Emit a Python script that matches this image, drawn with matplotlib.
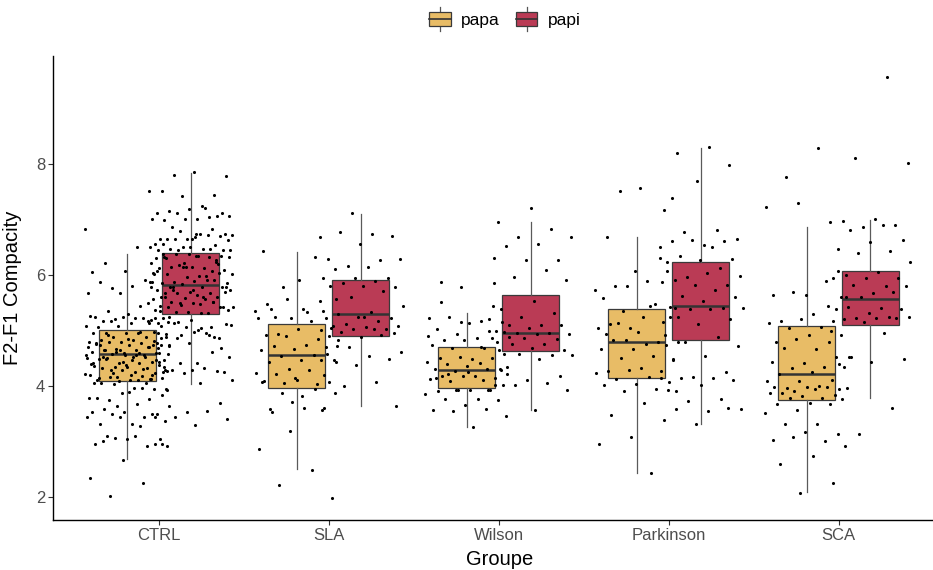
import matplotlib
matplotlib.use('Agg')
import matplotlib.pyplot as plt
import numpy as np
from matplotlib.patches import Rectangle
from matplotlib.lines import Line2D
from matplotlib.legend_handler import HandlerBase

plt.rcParams['font.family'] = ['Liberation Sans', 'DejaVu Sans']

groups = ['CTRL', 'SLA', 'Wilson', 'Parkinson', 'SCA']
series = ['papa', 'papi']
colors = ['#E8BC66', '#BA3B55']

# box statistics (one value per group)
papa_low = [2.68, 2.50, 3.25, 2.42, 2.08]
papa_q1 = [4.08, 3.97, 3.97, 4.15, 3.75]
papa_med = [4.57, 4.56, 4.28, 4.80, 4.21]
papa_q3 = [5.01, 5.11, 4.71, 5.38, 5.09]
papa_high = [6.38, 6.42, 5.31, 6.68, 6.86]

papi_low = [4.03, 3.63, 3.57, 3.31, 3.79]
papi_q1 = [5.29, 4.91, 4.63, 4.83, 5.10]
papi_med = [5.82, 5.30, 4.95, 5.44, 5.56]
papi_q3 = [6.40, 5.92, 5.64, 6.24, 6.08]
papi_high = [7.85, 7.10, 6.96, 8.29, 6.99]

ctrl_papa = [6.83, 6.51, 6.21, 6.08, 6.07, 6.06, 5.92, 5.76, 5.60, 5.81, 5.87, 5.87, 5.67, 5.67,
             5.45, 5.36, 5.36, 5.29, 5.25, 5.18, 5.21, 5.16, 5.22, 5.18, 5.22, 5.24, 5.27, 5.23,
             5.18, 5.22, 5.13, 5.07, 5.19, 5.08, 5.08, 4.96, 4.96, 4.96, 4.96, 4.96, 4.89, 4.89,
             4.89, 4.83, 4.83, 4.81, 4.80, 4.80, 4.78, 4.79, 4.74, 4.74, 4.77, 4.71, 4.66, 4.72,
             4.65, 4.64, 4.59, 4.60, 4.62, 4.56, 4.57, 4.47, 4.47, 4.48, 4.44, 4.41, 4.50, 4.41,
             4.51, 4.38, 4.35, 4.36, 4.33, 4.35, 4.27, 4.26, 4.32, 4.24, 4.29, 4.20, 4.18, 4.17,
             4.14, 4.11, 4.11, 4.12, 4.17, 4.21, 4.11, 4.65, 4.68, 4.56, 4.41, 4.53, 4.23, 4.29,
             4.53, 4.74, 4.74, 4.65, 4.71, 4.98, 4.92, 4.86, 4.84, 4.76, 4.70, 4.62, 4.58, 4.55,
             4.52, 4.46, 4.43, 4.39, 4.31, 4.28, 4.25, 4.19, 4.15, 4.13, 4.09, 4.55, 4.60, 4.49,
             4.44, 4.37, 4.05, 4.05, 4.03, 3.95, 3.96, 4.05, 3.94, 3.88, 3.79, 3.97, 3.75, 3.84,
             3.89, 3.79, 3.76, 3.63, 3.64, 3.68, 3.58, 3.50, 3.53, 3.53, 3.44, 3.49, 3.37, 3.31,
             3.31, 3.50, 3.44, 3.44, 3.28, 3.10, 3.04, 3.05, 2.96, 2.92, 3.06, 2.92, 3.10, 3.01,
             2.95, 2.67, 2.34, 2.25, 2.01]
ctrl_papi = [7.81, 7.79, 7.86, 7.52, 7.45, 7.43, 7.51, 7.24, 7.15, 7.13, 7.19, 7.13, 7.05, 7.13,
             7.07, 7.01, 6.99, 7.07, 7.01, 7.01, 7.22, 6.87, 6.75, 6.65, 6.65, 6.83, 6.80, 6.72,
             6.75, 6.66, 6.71, 6.65, 6.57, 6.72, 6.65, 6.63, 6.68, 6.56, 6.54, 6.51, 6.50, 6.48,
             6.48, 6.45, 6.51, 6.45, 6.47, 6.45, 6.45, 6.35, 6.30, 6.20, 6.14, 6.03, 5.98, 5.79,
             5.78, 5.73, 5.61, 5.52, 5.46, 5.49, 5.31, 5.25, 6.35, 6.38, 6.30, 6.33, 6.38, 6.33,
             6.35, 6.33, 6.24, 6.22, 6.21, 6.12, 6.15, 6.09, 6.15, 6.12, 6.08, 6.18, 6.02, 5.98,
             6.02, 6.04, 5.97, 6.02, 5.92, 5.88, 5.85, 5.90, 5.85, 5.91, 5.84, 5.88, 5.79, 5.79,
             5.79, 5.70, 5.73, 5.67, 5.68, 5.73, 5.64, 5.67, 5.61, 5.58, 5.56, 5.57, 5.73, 5.70,
             5.49, 5.44, 5.52, 5.49, 5.43, 5.48, 5.42, 5.43, 5.34, 5.37, 5.31, 5.33, 5.37, 6.75,
             6.39, 6.27, 6.15, 5.79, 5.61, 5.52, 5.43, 5.19, 5.13, 5.07, 5.16, 5.10, 5.01, 4.94,
             4.86, 5.07, 4.98, 4.95, 5.13, 5.12, 4.98, 5.08, 4.89, 4.92, 5.13, 5.04, 4.74, 4.68,
             4.77, 4.77, 4.92, 4.86, 4.53, 4.41, 4.35, 4.27, 4.23, 4.20, 4.32, 4.29, 4.26, 4.29,
             4.59, 4.62, 4.41, 4.11, 4.05, 3.93, 3.69, 3.53, 3.44, 3.55, 3.44, 3.40, 3.29, 2.96]
sla_papa = [6.44, 6.33, 5.79, 5.56, 5.38, 5.38, 5.36, 5.22, 5.22, 5.18, 4.94, 5.05, 5.02, 4.92,
            4.84, 4.90, 4.83, 4.74, 4.72, 4.70, 4.66, 4.64, 4.56, 4.54, 4.46, 4.46, 4.44, 4.46,
            4.30, 4.23, 4.28, 4.22, 4.07, 4.10, 4.08, 4.03, 4.05, 4.72, 3.61, 3.53, 3.61, 3.71,
            2.87, 2.49, 2.21, 1.98, 5.91, 5.47, 5.54, 5.56, 5.36, 5.33, 5.24, 4.58, 4.14, 4.07,
            3.94, 3.88, 3.87, 3.82, 3.58, 3.57, 3.19]
sla_papi = [7.12, 6.69, 6.74, 6.77, 6.71, 6.56, 6.29, 6.27, 6.17, 6.29, 6.15, 6.11, 5.94, 5.94,
            5.94, 5.90, 5.85, 5.78, 5.81, 5.81, 5.71, 5.60, 5.45, 5.33, 5.30, 5.22, 5.24, 5.22,
            5.18, 5.12, 5.09, 5.06, 5.08, 5.03, 5.02, 5.01, 5.02, 4.97, 4.95, 4.89, 4.90, 4.92,
            4.70, 4.61, 4.54, 4.44, 4.48, 4.38, 4.19, 4.07, 3.99, 3.63, 5.24]
wilson_papa = [5.87, 5.85, 5.78, 5.22, 5.18, 5.25, 5.16, 5.14, 5.03, 5.00, 4.94, 4.88, 4.86, 4.82,
               4.80, 4.82, 4.74, 4.68, 4.68, 4.58, 4.49, 4.51, 4.50, 4.53, 4.44, 4.42, 4.40, 4.31,
               4.36, 4.30, 4.30, 4.27, 4.21, 4.18, 4.18, 4.15, 4.18, 4.12, 4.10, 4.08, 4.02, 3.93,
               3.90, 3.92, 3.92, 3.85, 3.76, 3.76, 3.74, 3.66, 3.57, 3.58, 3.55, 3.46, 3.25, 5.51,
               5.45, 5.16, 4.91, 4.71, 4.22, 4.28, 4.25, 4.15, 3.92, 3.92]
wilson_papi = [7.21, 6.96, 6.84, 6.69, 6.69, 6.57, 6.53, 6.27, 6.28, 6.31, 6.09, 5.97, 5.91, 5.53,
               5.39, 5.31, 5.24, 5.21, 5.10, 5.10, 5.10, 5.04, 5.00, 4.95, 4.95, 4.94, 4.94, 4.97,
               4.84, 4.86, 4.86, 4.76, 4.76, 4.65, 4.68, 4.64, 4.56, 4.58, 4.56, 4.48, 4.34, 4.18,
               4.10, 4.02, 4.05, 4.02, 3.92, 3.56]
parkinson_papa = [7.51, 7.39, 7.58, 6.69, 6.31, 5.81, 5.73, 5.89, 5.80, 6.07, 6.07, 5.58, 5.48,
                  5.36, 5.40, 5.24, 5.12, 5.16, 5.04, 5.04, 5.44, 5.14, 5.25, 4.97, 4.94, 4.80,
                  4.82, 4.80, 4.76, 4.82, 4.74, 4.67, 4.66, 4.54, 4.50, 4.46, 4.32, 4.27, 4.27,
                  4.29, 4.23, 4.17, 4.13, 4.07, 4.04, 4.02, 3.94, 3.90, 3.90, 3.70, 3.47, 3.38,
                  3.07, 2.95, 2.42]
parkinson_papi = [8.31, 8.20, 7.99, 7.70, 7.17, 6.81, 6.77, 6.65, 6.55, 6.61, 6.62, 6.63, 6.51,
                  6.51, 6.35, 6.29, 6.27, 6.23, 6.13, 5.96, 5.98, 6.03, 5.91, 5.82, 5.82, 5.88,
                  5.74, 5.63, 5.60, 5.54, 5.43, 5.41, 5.38, 5.40, 5.38, 5.24, 5.20, 5.12, 4.92,
                  4.88, 4.80, 4.72, 4.54, 4.48, 4.25, 4.16, 4.14, 4.14, 4.14, 4.11, 4.02, 3.93,
                  3.76, 3.73, 3.59, 3.55, 3.59, 3.61, 3.31]
sca_papa = [7.31, 7.23, 8.30, 7.78, 6.07, 5.65, 5.65, 5.89, 5.69, 5.60, 5.30, 5.18, 5.18, 5.20,
            5.14, 5.07, 5.05, 4.92, 4.92, 4.80, 4.80, 4.84, 4.53, 4.66, 4.68, 4.53, 4.42, 4.43,
            4.34, 4.32, 4.35, 4.26, 4.21, 4.11, 4.08, 4.08, 4.00, 3.96, 3.94, 3.98, 3.98, 3.98,
            3.90, 3.96, 3.94, 3.87, 3.83, 3.81, 3.88, 3.78, 3.78, 3.76, 3.70, 3.67, 3.67, 3.57,
            3.52, 3.31, 3.31, 3.13, 3.17, 3.03, 3.01, 3.07, 2.91, 2.73, 2.59, 2.25, 2.07]
sca_papi = [9.58, 8.12, 8.02, 7.01, 6.98, 6.90, 6.87, 6.96, 6.91, 6.81, 6.63, 6.59, 6.47, 6.43,
            6.40, 6.23, 6.06, 6.01, 5.94, 5.95, 5.95, 5.80, 5.82, 5.81, 5.67, 5.60, 5.70, 5.60,
            5.44, 5.40, 5.42, 5.38, 5.32, 5.38, 5.24, 5.22, 5.24, 5.22, 5.20, 5.22, 5.16, 5.00,
            4.96, 4.52, 4.48, 4.43, 4.40, 3.61, 3.13]

points_papa = [ctrl_papa, sla_papa, wilson_papa, parkinson_papa, sca_papa]
points_papi = [ctrl_papi, sla_papi, wilson_papi, parkinson_papi, sca_papi]

dodge = 0.188
box_w = 0.336
jit = 0.25


class BoxKey(HandlerBase):
    def create_artists(self, legend, orig_handle, xdescent, ydescent,
                       width, height, fontsize, trans):
        x0, y0 = -xdescent, -ydescent
        cx = x0 + width / 2
        stem = Line2D([cx, cx], [y0 - 0.35 * height, y0 + 1.35 * height],
                      color='#555555', lw=0.9, transform=trans)
        box = Rectangle((x0, y0), width, height, facecolor=orig_handle.get_facecolor(),
                        edgecolor='#3a3a3a', lw=0.9, transform=trans)
        mid = Line2D([x0, x0 + width], [y0 + height / 2] * 2,
                     color='#333333', lw=1.2, transform=trans)
        return [stem, box, mid]


fig = plt.figure(figsize=(9.33, 5.70), dpi=100)
ax = fig.add_axes([53 / 933, 50 / 570, 880 / 933, 464 / 570])

x = np.arange(1, len(groups) + 1)
stats_sets = [
    (papa_low, papa_q1, papa_med, papa_q3, papa_high),
    (papi_low, papi_q1, papi_med, papi_q3, papi_high),
]
for k, (lo, q1, med, q3, hi) in enumerate(stats_sets):
    stats = [dict(whislo=lo[i], q1=q1[i], med=med[i], q3=q3[i], whishi=hi[i])
             for i in range(len(groups))]
    pos = x + (k * 2 - 1) * dodge
    ax.bxp(stats, positions=pos, widths=box_w, patch_artist=True,
           showfliers=False, showcaps=False, manage_ticks=False,
           boxprops=dict(facecolor=colors[k], edgecolor='#3a3a3a', lw=0.9),
           whiskerprops=dict(color='#5a5a5a', lw=0.9),
           medianprops=dict(color='#333333', lw=1.8), zorder=2)

# jittered points (deterministic spread around each dodged box)
for k, pts in enumerate([points_papa, points_papi]):
    for i, vals in enumerate(pts):
        n = len(vals)
        off = ((np.arange(n) * 0.6180339887 + 0.3 * k + 0.1 * i) % 1 - 0.5) * 2 * jit
        xs = x[i] + (k * 2 - 1) * dodge + off
        ax.scatter(xs, vals, s=5, c='black', linewidths=0, zorder=3)

ax.set_xlim(0.376, 5.556)
ax.set_ylim(1.58, 9.955)
ax.set_xticks(x)
ax.set_xticklabels(groups)
ax.set_yticks([2, 4, 6, 8])
ax.tick_params(labelsize=12, labelcolor='#4D4D4D', color='#333333', length=3.5, width=0.8, pad=2)
for s in ['top', 'right']:
    ax.spines[s].set_visible(False)
for s in ['left', 'bottom']:
    ax.spines[s].set_color('black')
    ax.spines[s].set_linewidth(1.0)

ax.set_xlabel('Groupe', fontsize=14.5)
ax.set_ylabel('F2-F1 Compacity', fontsize=14.5)
ax.xaxis.set_label_coords((500 - 53) / 880, -0.065)
ax.yaxis.set_label_coords(-0.035, 0.5)

handles = [Rectangle((0, 0), 1, 1, facecolor=c) for c in colors]
fig.legend(handles, series, handler_map={Rectangle: BoxKey()}, loc='center',
           bbox_to_anchor=(505 / 933, 1 - 20 / 570), ncol=2, frameon=False,
           fontsize=12.5, handlelength=1.25, handleheight=0.85,
           columnspacing=0.9, handletextpad=0.6)

fig.savefig('out.png', dpi=100)
